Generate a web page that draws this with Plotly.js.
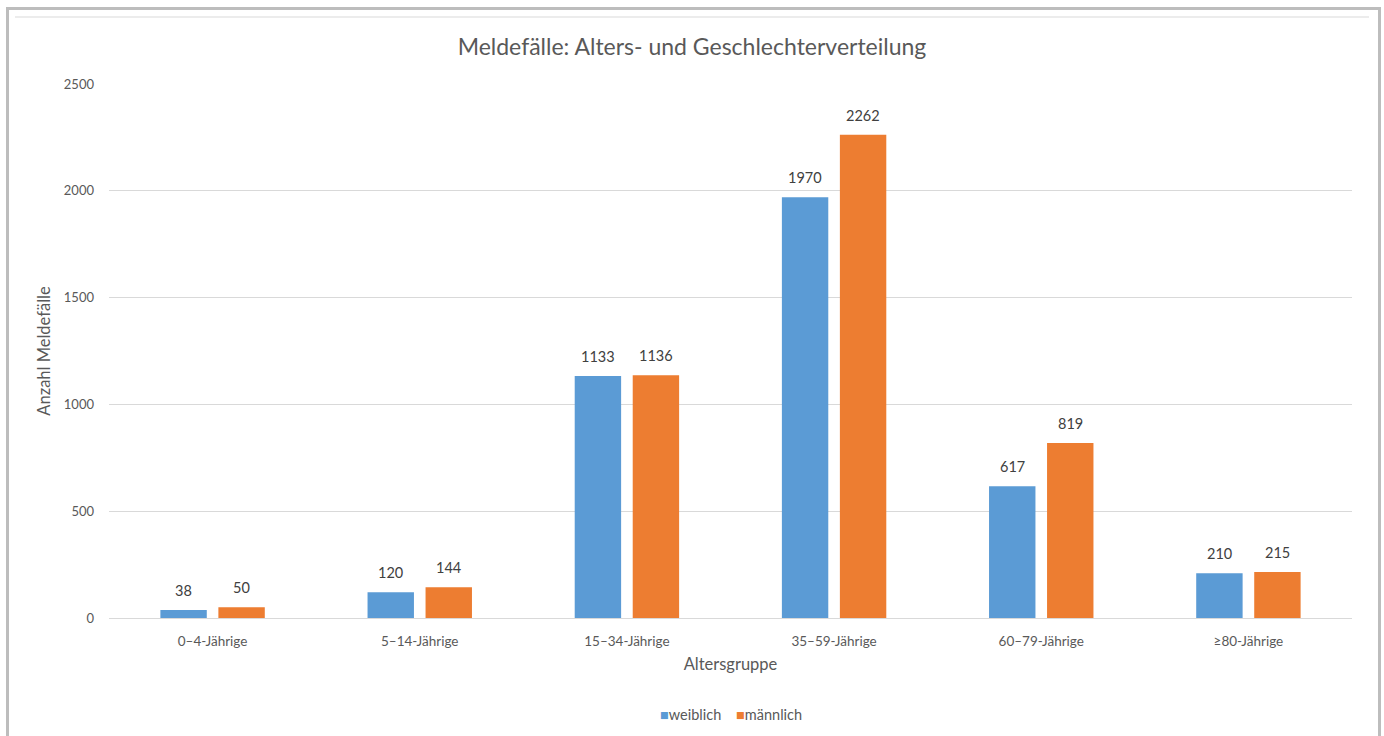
<!DOCTYPE html>
<html>
<head>
<meta charset="utf-8">
<script src="https://cdn.plot.ly/plotly-3.0.1.min.js"></script>
<style>
html,body{margin:0;padding:0;background:#fff;}
#frame{position:absolute;left:6px;top:7px;width:1369px;height:740px;border:3px solid #bdbdbd;border-bottom:none;box-sizing:content-box;pointer-events:none;z-index:2;}
#inner{position:absolute;left:15px;top:16px;width:1354px;height:2px;background:#ececec;z-index:2;}
#chart{position:absolute;left:0;top:0;width:1384px;height:736px;}
</style>
</head>
<body>
<div id="chart"></div>
<div id="frame"></div>
<div id="inner"></div>
<script>
var categories = ["0–4-Jährige","5–14-Jährige","15–34-Jährige","35–59-Jährige","60–79-Jährige","≥80-Jährige"];
var weiblich = [38,120,1133,1970,617,210];
var maennlich = [50,144,1136,2262,819,215];
var yTicks = [0,500,1000,1500,2000,2500];
var seriesNames = ["weiblich","männlich"];
var colors = ["#5B9BD5","#ED7D31"];

var font = "Lato, 'Open Sans', sans-serif";
var textCol = "#595959";
var labelCol = "#404040";

var traces = [
  {type:'bar', name:seriesNames[0], x:categories, y:weiblich, marker:{color:colors[0]}},
  {type:'bar', name:seriesNames[1], x:categories, y:maennlich, marker:{color:colors[1]}}
];

var annotations = [];
[weiblich, maennlich].forEach(function(series, s){
  series.forEach(function(v, i){
    annotations.push({xref:'x', yref:'y', x:categories[i], y:v, text:String(v), showarrow:false,
      xshift:(s===0?-29:29), yshift:9, yanchor:'bottom', xanchor:'center',
      font:{family:font,size:14.5,color:labelCol}});
  });
});
annotations.push({xref:'paper', yref:'paper', x:0.5, y:-0.18, xanchor:'center', yanchor:'middle', showarrow:false,
  text:"<span style='color:"+colors[0]+"'>■</span>"+seriesNames[0]+"    <span style='color:"+colors[1]+"'>■</span>"+seriesNames[1],
  font:{family:font,size:14.5,color:textCol}});

var layout = {
  width:1384, height:736,
  margin:{l:109,r:32,t:84,b:118},
  paper_bgcolor:'rgba(0,0,0,0)', plot_bgcolor:'rgba(0,0,0,0)',
  font:{family:font,color:textCol,size:13},
  title:{text:'Meldefälle: Alters- und Geschlechterverteilung', font:{family:font,size:23,color:textCol}, x:0.5, xanchor:'center', y:0.936, yanchor:'middle', yref:'container'},
  barmode:'group', bargap:0.44, bargroupgap:0.2,
  showlegend:false,
  annotations:annotations,
  xaxis:{type:'category', showline:true, linecolor:'#d9d9d9', linewidth:1, showgrid:false,
    ticks:'', ticklabelstandoff:11, tickfont:{family:font,size:13.5,color:textCol},
    title:{text:'Altersgruppe', font:{family:font,size:16.5,color:textCol}, standoff:10}},
  yaxis:{range:[0,2500], tickvals:yTicks, ticktext:yTicks.map(String), showgrid:true, gridcolor:'#d9d9d9', gridwidth:1,
    zeroline:false, showline:false, ticks:'', ticklabelstandoff:14, tickfont:{family:font,size:13,color:textCol},
    title:{text:'Anzahl Meldefälle', font:{family:font,size:16.5,color:textCol}, standoff:9}},
  hovermode:false
};
Plotly.newPlot('chart', traces, layout, {displayModeBar:false, staticPlot:true});
</script>
</body>
</html>
